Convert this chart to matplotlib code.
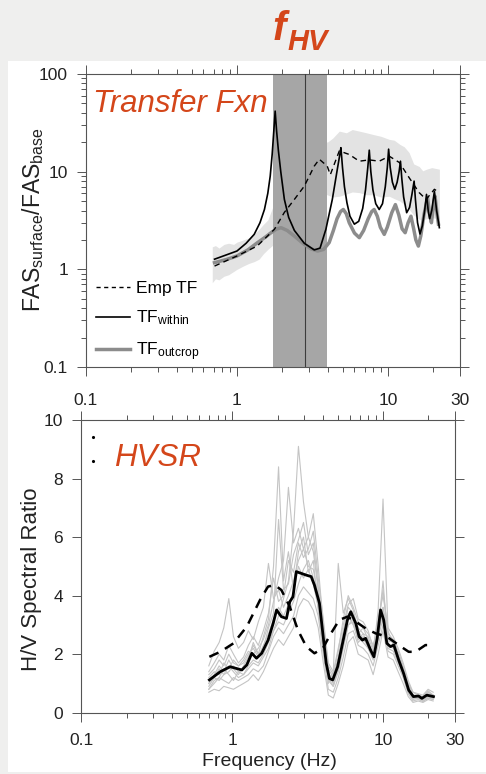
import matplotlib
matplotlib.use('Agg')
import matplotlib.pyplot as plt
from matplotlib.lines import Line2D
from matplotlib.patches import Rectangle
from matplotlib.ticker import FixedLocator, FixedFormatter, NullFormatter

plt.rcParams['font.family'] = ['Liberation Sans', 'DejaVu Sans']
plt.rcParams['mathtext.fontset'] = 'custom'
plt.rcParams['mathtext.rm'] = 'Liberation Sans'
plt.rcParams['mathtext.it'] = 'Liberation Sans:italic'
plt.rcParams['mathtext.bf'] = 'Liberation Sans:bold'

# ---------------- Top panel data (transfer functions) ----------------
band_f = [0.686, 0.72, 0.76, 0.82, 0.88, 0.95, 1.0, 1.1, 1.2, 1.3, 1.40, 1.5, 1.6,
          1.75, 1.91, 2.2, 2.58, 3.01, 3.51, 3.96, 4.3, 4.76, 5.3, 5.8, 6.46, 7.2,
          8.0, 9.0, 10.2, 11.0, 12.0, 12.8, 13.8, 14.8, 16.1, 17.0, 18.0, 19.5, 21.9]
band_lo = [0.73, 0.80, 0.78, 0.85, 0.88, 0.95, 1.0, 1.08, 1.15, 1.2, 1.27, 1.45, 1.6,
           1.8, 2.03, 2.4, 3.0, 4.5, 6.1, 5.8, 5.5, 5.6, 5.9, 6.2, 6.1, 5.8,
           5.8, 5.5, 5.6, 5.3, 5.0, 4.6, 4.1, 3.6, 3.25, 3.2, 3.3, 3.4, 3.25]
band_hi = [1.7, 1.75, 1.65, 1.8, 1.85, 1.8, 1.9, 2.0, 2.1, 2.3, 2.57, 2.9, 3.2,
           4.6, 4.1, 6.0, 11.0, 16.0, 24.0, 20.0, 22.0, 26.0, 25.0, 27.0, 26.0, 25.0,
           24.0, 23.0, 21.4, 21.0, 19.0, 18.0, 15.7, 12.0, 11.3, 10.2, 10.6, 11.0, 10.6]

emp_f = [0.71, 1.0, 1.36, 1.77, 2.06, 2.40, 2.79, 3.25, 3.51, 3.96, 4.15, 4.76,
         5.54, 6.46, 7.52, 8.75, 10.2, 11.9, 13.8, 16.1, 17.9, 20.3, 21.9]
emp_v = [1.08, 1.37, 1.73, 2.57, 3.83, 5.2, 7.1, 11.4, 13.4, 11.4, 9.3, 16.3,
         15.0, 12.8, 13.2, 12.8, 14.4, 12.4, 8.7, 6.1, 5.2, 6.6, 6.1]

within_f = [0.71, 1.0, 1.15, 1.30, 1.42, 1.52, 1.60, 1.66, 1.71, 1.75, 1.79, 1.83,
            1.88, 1.95, 2.06, 2.2, 2.40, 2.79, 3.25, 3.55, 3.88, 4.28, 4.62, 4.80,
            4.88, 5.0, 5.15, 5.35, 5.6, 5.99, 6.4, 6.8, 7.1, 7.35, 7.52, 7.7,
            7.95, 8.3, 8.75, 9.2, 9.6, 9.9, 10.1, 10.35, 10.7, 11.1, 11.5, 11.85,
            12.1, 12.35, 12.7, 13.3, 13.9, 14.4, 14.9, 15.2, 15.7, 16.3, 16.9, 17.5,
            18.0, 18.5, 18.9, 19.5, 20.3, 21.0, 21.9]
within_v = [1.27, 1.54, 1.85, 2.28, 3.0, 4.1, 6.0, 9.0, 15.0, 25.0, 41.7, 26.0,
            16.5, 10.0, 5.2, 3.4, 2.5, 1.85, 1.58, 1.65, 2.57, 5.2, 10.6, 15.0,
            17.6, 11.0, 7.0, 4.8, 3.5, 2.9, 3.1, 4.2, 6.5, 11.0, 16.6, 10.0,
            6.5, 4.7, 4.1, 4.7, 7.0, 11.0, 17.0, 11.0, 7.8, 6.6, 7.8, 10.0,
            12.8, 8.5, 5.5, 3.8, 4.3, 5.8, 8.0, 5.2, 3.0, 2.3, 2.8, 4.0,
            5.85, 3.9, 3.3, 4.0, 6.3, 4.0, 2.67]

outcrop_f = [0.71, 0.85, 1.0, 1.18, 1.37, 1.55, 1.68, 1.82, 1.96, 2.15, 2.40, 2.79,
             3.1, 3.42, 3.75, 4.08, 4.35, 4.6, 4.85, 5.06, 5.3, 5.54, 6.0, 6.46,
             6.9, 7.4, 7.8, 8.1, 8.5, 8.9, 9.45, 9.9, 10.6, 11.2, 11.8, 12.4,
             13.0, 13.6, 14.2, 14.8, 15.3, 15.9, 16.5, 17.3, 18.3, 18.9, 19.4, 20.0,
             20.5, 21.1, 21.6]
outcrop_v = [1.17, 1.26, 1.37, 1.58, 1.88, 2.15, 2.37, 2.58, 2.67, 2.5, 2.19, 1.80,
             1.62, 1.54, 1.6, 1.88, 2.5, 3.3, 3.9, 4.1, 3.7, 3.0, 2.35, 2.11,
             2.5, 3.3, 3.9, 4.1, 3.5, 2.7, 2.28, 2.7, 3.8, 4.6, 3.6, 2.6,
             2.37, 3.0, 3.5, 2.6, 2.0, 1.73, 2.2, 3.6, 5.4, 3.6, 3.0, 4.4,
             5.6, 3.8, 2.9]

fhv_lo, fhv_hi, fhv_center = 1.72, 3.94, 2.82

# ---------------- Bottom panel data (HVSR) ----------------
hv_f = [0.70, 0.76, 0.82, 0.88, 0.95, 1.02, 1.10, 1.19, 1.28, 1.38, 1.49, 1.61,
        1.74, 1.88, 2.03, 2.19, 2.36, 2.55, 2.75, 2.97, 3.20, 3.45, 3.72, 4.02,
        4.34, 4.68, 5.05, 5.45, 5.88, 6.35, 6.85, 7.39, 7.97, 8.60, 9.28, 10.0,
        10.8, 11.7, 12.6, 13.6, 14.7, 15.8, 17.1, 18.4, 19.9, 21.5]
hv_g1 = [1.0, 1.3, 1.6, 1.4, 1.8, 1.5, 1.3, 1.6, 1.9, 2.3, 2.0, 2.6, 3.2, 5.0, 8.4, 4.5,
         5.5, 4.2, 5.5, 6.0, 4.8, 5.2, 3.5, 2.2, 1.2, 0.9, 1.6, 2.6, 3.4, 3.0, 2.6, 2.4,
         2.2, 1.9, 2.6, 3.2, 2.2, 2.1, 1.7, 1.3, 0.7, 0.5, 0.5, 0.45, 0.55, 0.5]
hv_g2 = [0.8, 1.1, 1.2, 1.5, 1.3, 1.1, 1.4, 1.3, 1.6, 1.8, 1.7, 2.0, 2.4, 2.8, 3.3, 3.9,
         4.5, 6.2, 9.1, 7.2, 6.0, 5.5, 4.2, 2.9, 1.4, 1.0, 1.5, 2.3, 3.0, 3.1, 2.4, 2.6,
         2.2, 1.8, 2.5, 3.6, 2.5, 2.4, 1.9, 1.5, 0.9, 0.6, 0.6, 0.5, 0.65, 0.6]
hv_g3 = [1.3, 1.5, 1.8, 1.6, 2.0, 1.7, 1.6, 1.8, 2.1, 2.0, 2.2, 2.5, 3.0, 3.8, 4.6, 5.2,
         7.7, 5.8, 6.3, 5.6, 6.0, 6.8, 5.0, 3.0, 1.5, 1.2, 1.9, 2.8, 3.6, 3.4, 2.9, 2.7,
         2.6, 2.1, 3.0, 4.2, 2.7, 2.5, 2.0, 1.5, 1.0, 0.6, 0.55, 0.5, 0.6, 0.5]
hv_g4 = [0.9, 1.2, 1.1, 1.3, 1.6, 1.4, 1.2, 1.3, 1.5, 1.7, 1.6, 1.9, 2.2, 2.8, 3.1, 3.0,
         3.4, 3.8, 4.4, 4.9, 5.2, 4.6, 3.8, 2.4, 1.1, 0.9, 1.4, 2.2, 3.0, 3.2, 2.8, 2.5,
         2.3, 2.0, 3.5, 7.3, 2.8, 2.3, 1.8, 1.3, 0.7, 0.45, 0.5, 0.4, 0.5, 0.45]
hv_g5 = [1.6, 2.1, 2.4, 2.9, 3.9, 2.6, 2.2, 2.4, 2.8, 2.5, 3.1, 3.6, 5.1, 3.9, 4.2, 3.6,
         4.0, 4.5, 5.2, 5.6, 5.0, 4.9, 4.0, 2.8, 1.6, 1.3, 2.1, 3.2, 4.0, 3.6, 3.1, 2.9,
         2.7, 2.3, 2.9, 3.6, 2.6, 2.4, 2.0, 1.5, 0.9, 0.55, 0.6, 0.5, 0.7, 0.6]
hv_g6 = [1.2, 1.4, 1.3, 1.7, 1.5, 1.8, 1.6, 1.7, 2.0, 2.2, 1.9, 2.3, 2.7, 3.2, 3.6, 3.3,
         3.7, 4.1, 5.0, 4.6, 4.9, 4.4, 3.6, 2.5, 1.0, 1.4, 5.1, 3.4, 3.9, 3.5, 2.7, 2.9,
         2.5, 1.9, 2.8, 3.4, 2.4, 2.5, 2.1, 1.6, 1.0, 0.7, 0.65, 0.6, 0.8, 0.7]
hv_g7 = [0.7, 0.8, 0.75, 0.9, 0.85, 0.8, 0.9, 1.0, 1.1, 1.3, 1.1, 1.4, 1.8, 2.2, 2.5, 2.3,
         2.6, 2.9, 3.6, 3.9, 3.8, 3.5, 2.9, 1.7, 0.6, 0.5, 1.0, 1.6, 2.4, 2.6, 2.0, 1.9,
         1.8, 1.3, 2.0, 2.8, 1.9, 1.8, 1.4, 1.0, 0.55, 0.35, 0.4, 0.35, 0.45, 0.4]
hv_g8 = [1.0, 1.2, 1.5, 1.3, 1.4, 1.6, 1.4, 1.5, 1.8, 2.4, 2.0, 2.2, 2.9, 3.4, 6.6, 4.2,
         4.4, 5.4, 5.9, 6.5, 5.4, 5.8, 4.3, 2.7, 1.3, 1.0, 1.8, 2.6, 3.3, 3.0, 2.5, 2.7,
         2.3, 2.0, 2.8, 4.5, 2.3, 2.2, 1.8, 1.4, 0.8, 0.5, 0.5, 0.45, 0.55, 0.5]
hv_g9 = [1.4, 1.7, 2.0, 1.8, 2.3, 2.0, 1.7, 1.9, 2.3, 2.6, 2.3, 2.8, 3.4, 4.6, 3.8, 4.0,
         5.2, 4.8, 5.8, 5.3, 5.6, 6.2, 4.6, 3.2, 1.7, 1.4, 2.2, 3.0, 3.7, 3.9, 3.2, 3.1,
         2.8, 2.2, 3.2, 4.0, 2.9, 2.6, 2.2, 1.7, 1.1, 0.7, 0.6, 0.55, 0.75, 0.6]
hv_g10 = [0.8, 1.0, 1.2, 1.1, 1.0, 1.2, 1.1, 1.2, 1.3, 1.5, 1.4, 1.6, 2.1, 2.6, 2.9, 2.7,
          3.0, 3.3, 4.0, 4.3, 4.1, 3.9, 3.3, 2.0, 0.8, 0.7, 1.2, 1.9, 2.7, 2.8, 2.3, 2.2,
          2.0, 1.6, 2.3, 3.0, 2.1, 2.0, 1.6, 1.2, 0.65, 0.4, 0.45, 0.38, 0.5, 0.45]
hv_gray = [hv_g1, hv_g2, hv_g3, hv_g4, hv_g5, hv_g6, hv_g7, hv_g8, hv_g9, hv_g10]

med_f = [0.706, 0.834, 0.97, 1.16, 1.25, 1.35, 1.45, 1.57, 1.73, 1.87, 1.97, 2.12,
         2.29, 2.41, 2.53, 2.66, 2.87, 3.10, 3.34, 3.51, 3.79, 3.99, 4.20, 4.41,
         4.64, 5.0, 5.39, 5.81, 6.11, 6.60, 6.94, 7.30, 7.67, 8.27, 8.70, 9.15,
         9.63, 10.1, 10.6, 11.2, 11.8, 12.7, 13.7, 14.8, 15.9, 17.2, 18.1, 19.5, 21.6]
med_v = [1.12, 1.40, 1.57, 1.46, 1.63, 2.03, 1.86, 2.03, 2.48, 3.05, 3.51, 3.28,
         3.22, 3.79, 3.96, 4.82, 4.76, 4.70, 4.65, 4.36, 3.74, 2.71, 1.69, 1.17,
         1.12, 1.57, 2.37, 3.17, 3.45, 3.05, 2.60, 2.48, 2.54, 2.14, 1.91, 2.54,
         3.51, 3.17, 2.37, 2.26, 2.31, 1.80, 1.34, 0.77, 0.55, 0.57, 0.49, 0.60, 0.55]

theo_f = [0.706, 0.834, 1.02, 1.25, 1.53, 1.73, 1.92, 2.12, 2.41, 2.73, 3.10, 3.51,
          3.99, 4.52, 5.13, 5.81, 6.60, 7.67, 8.93, 10.6, 12.7, 14.8, 16.4, 19.1, 21.6]
theo_v = [1.91, 2.08, 2.37, 2.94, 3.85, 4.31, 4.36, 4.19, 3.62, 2.82, 2.26, 2.03,
          2.20, 2.71, 3.17, 3.28, 3.11, 2.88, 2.71, 2.60, 2.31, 2.08, 2.08, 2.31, 2.31]

x_ticks = [0.1, 1, 10, 30]
x_ticklabels = ['0.1', '1', '10', '30']
x_minor = [0.2, 0.3, 0.4, 0.5, 0.6, 0.7, 0.8, 0.9, 2, 3, 4, 5, 6, 7, 8, 9, 20]
y1_ticks = [0.1, 1, 10, 100]
y1_ticklabels = ['0.1', '1', '10', '100']
y1_minor = [m * d for d in (0.1, 1, 10) for m in range(2, 10)]
y2_ticks = [0, 2, 4, 6, 8, 10]

ORANGE = '#d4461a'
SPINE = '#555555'

fig = plt.figure(figsize=(4.86, 7.74), dpi=100, facecolor='#efefee')
fig.patches.append(Rectangle((8 / 486, 2 / 774), 1, 1 - 63 / 774, transform=fig.transFigure,
                             facecolor='white', edgecolor='none', zorder=-10))

ax1 = fig.add_axes([86 / 486, 1 - 367 / 774, 374 / 486, 293 / 774])
ax2 = fig.add_axes([81.3 / 486, 1 - 712.7 / 774, 373.7 / 486, 292.7 / 774])


def style(ax, xpad):
    for s in ax.spines.values():
        s.set_color(SPINE)
        s.set_linewidth(0.8)
    ax.tick_params(which='both', direction='out', top=True, right=True,
                   color=SPINE, width=0.7, labelsize=12.5, labelcolor='#222222')
    ax.tick_params(which='major', length=6.5)
    ax.tick_params(which='minor', length=3.5)
    ax.tick_params(axis='x', pad=xpad)
    ax.tick_params(axis='y', pad=6.5)
    ax.set_xscale('log')
    ax.set_xlim(0.1, 30)
    ax.xaxis.set_major_locator(FixedLocator(x_ticks))
    ax.xaxis.set_major_formatter(FixedFormatter(x_ticklabels))
    ax.xaxis.set_minor_locator(FixedLocator(x_minor))
    ax.xaxis.set_minor_formatter(NullFormatter())


# ---- top panel ----
style(ax1, 12.5)
ax1.set_yscale('log')
ax1.set_ylim(0.1, 100)
ax1.yaxis.set_major_locator(FixedLocator(y1_ticks))
ax1.yaxis.set_major_formatter(FixedFormatter(y1_ticklabels))
ax1.yaxis.set_minor_locator(FixedLocator(y1_minor))
ax1.yaxis.set_minor_formatter(NullFormatter())

ax1.fill_between(band_f, band_lo, band_hi, color='#e3e3e3', lw=0, zorder=1)
ax1.axvspan(fhv_lo, fhv_hi, color='#a6a6a6', lw=0, zorder=2)
ax1.axvline(fhv_center, color='#3c3c3c', lw=0.8, zorder=3)
ax1.plot(outcrop_f, outcrop_v, color='#8c8c8c', lw=2.5, zorder=4)
ax1.plot(within_f, within_v, color='black', lw=1.2, zorder=5)
ax1.plot(emp_f, emp_v, color='black', lw=1.0, dashes=(4, 3), zorder=6)

handles = [Line2D([], [], color='black', lw=1.0, dashes=(3, 2.5)),
           Line2D([], [], color='black', lw=1.2),
           Line2D([], [], color='#8c8c8c', lw=2.5)]
labels = ['Emp TF', r'TF$_{\mathrm{within}}$', r'TF$_{\mathrm{outcrop}}$']
ax1.legend(handles, labels, loc='lower left', bbox_to_anchor=(-0.002, -0.022),
           frameon=False, fontsize=12.5, handlelength=2.0, handletextpad=0.35,
           labelspacing=0.75, borderaxespad=0.2)

fig.text(93 / 486, 1 - 112 / 774, 'Transfer Fxn', color=ORANGE, fontsize=22.5,
         style='italic', ha='left', va='baseline')

# ---- bottom panel ----
style(ax2, 8)
ax2.set_ylim(0, 10)
ax2.yaxis.set_major_locator(FixedLocator(y2_ticks))
for g in hv_gray:
    ax2.plot(hv_f, g, color='#c4c4c4', lw=0.8, zorder=2)
ax2.plot(theo_f, theo_v, color='black', lw=1.8, dashes=(4, 3), zorder=4)
ax2.plot(med_f, med_v, color='black', lw=2.0, zorder=5)
ax2.plot([0.0305, 0.0305], [0.941, 0.861], linestyle='none', marker='.',
         markersize=2.5, color='black', transform=ax2.transAxes)

fig.text(114 / 486, 1 - 466 / 774, 'HVSR', color=ORANGE, fontsize=22.5,
         style='italic', ha='left', va='baseline')

# ---- labels ----
fig.text(33 / 486, 1 - 220 / 774, r'FAS$_{\mathrm{surface}}$/FAS$_{\mathrm{base}}$',
         rotation=90, ha='center', va='center', fontsize=16.5, color='#222222')
fig.text(31 / 486, 1 - 579 / 774, 'H/V Spectral Ratio', rotation=90,
         ha='center', va='center', fontsize=16, color='#222222')
fig.text(269 / 486, 1 - 762 / 774, 'Frequency (Hz)', ha='center', va='center',
         fontsize=14, color='#222222')

# ---- title f_HV ----
fig.text(273 / 486, 1 - 40 / 774, 'f', color=ORANGE, fontsize=29,
         fontweight='bold', style='italic', ha='left', va='baseline')
fig.text(287 / 486, 1 - 50 / 774, 'HV', color=ORANGE, fontsize=21,
         fontweight='bold', style='italic', ha='left', va='baseline')

fig.savefig('out.png', dpi=100, facecolor=fig.get_facecolor())
